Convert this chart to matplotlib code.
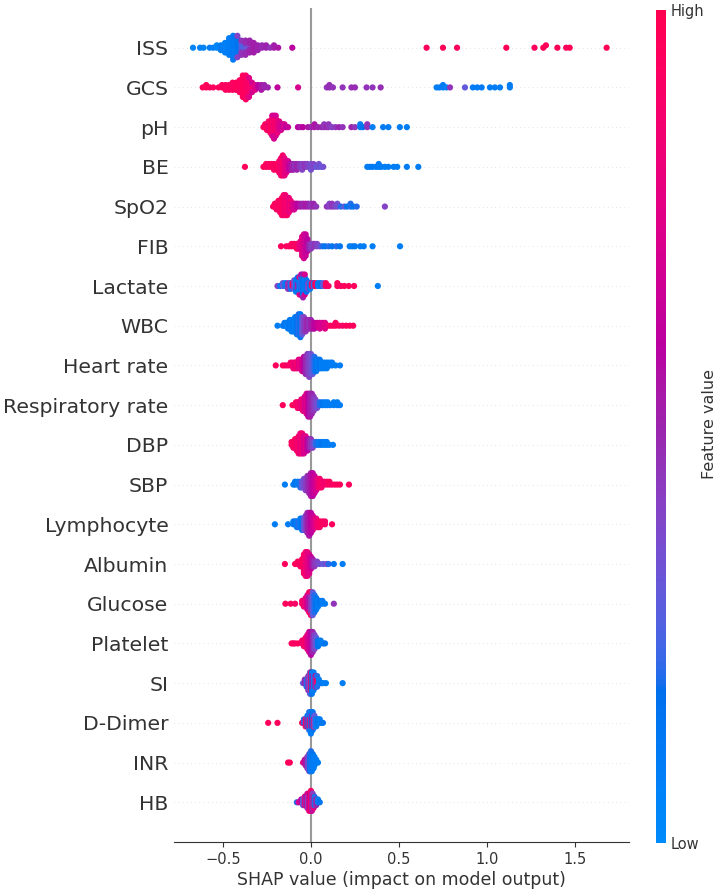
import numpy as np
import matplotlib
matplotlib.use("Agg")
import matplotlib.pyplot as plt
from matplotlib.colors import LinearSegmentedColormap
import matplotlib as mpl

# ---------------- data (shap value, count, normalised feature value) ----------------
features = ["ISS", "GCS", "pH", "BE", "SpO2", "FIB", "Lactate", "WBC", "Heart rate",
            "Respiratory rate", "DBP", "SBP", "Lymphocyte", "Albumin", "Glucose",
            "Platelet", "SI", "D-Dimer", "INR", "HB"]

ISS = [(-0.67,1,0.05),(-0.63,1,0.08),(-0.61,1,0.05),(-0.575,1,0.1),(-0.555,1,0.08),
       (-0.535,2,0.05),(-0.512,3,0.1),(-0.488,5,0.08),(-0.465,8,0.1),(-0.442,11,0.12),
       (-0.418,8,0.15),(-0.418,2,0.4),(-0.395,4,0.25),(-0.395,3,0.45),(-0.372,3,0.3),(-0.372,4,0.48),
       (-0.348,2,0.4),(-0.348,4,0.5),(-0.325,5,0.52),(-0.302,3,0.5),(-0.278,2,0.48),(-0.255,2,0.5),
       (-0.232,1,0.45),(-0.21,2,0.52),(-0.186,1,0.55),(-0.106,1,0.6),
       (0.657,1,0.95),(0.75,1,0.97),(0.83,1,0.95),(1.11,1,0.97),(1.27,1,0.95),(1.32,1,0.98),
       (1.335,1,0.96),(1.40,1,0.97),(1.45,1,0.95),(1.47,1,0.98),(1.68,1,0.97)]
GCS = [(-0.615,1,0.95),(-0.595,2,0.97),(-0.575,1,0.95),(-0.555,1,0.93),
       (-0.525,1,0.95),(-0.505,2,0.95),(-0.485,3,0.93),(-0.465,3,0.95),(-0.445,4,0.92),(-0.425,4,0.95),
       (-0.405,6,0.93),(-0.387,10,0.95),(-0.37,11,0.92),(-0.352,7,0.9),(-0.352,2,0.75),
       (-0.335,3,0.85),(-0.335,2,0.7),(-0.317,3,0.75),(-0.3,2,0.6),(-0.282,3,0.55),(-0.265,2,0.5),
       (-0.245,1,0.5),(-0.19,1,0.62),(-0.073,1,0.7),
       (0.09,1,0.45),(0.105,2,0.47),(0.125,1,0.45),(0.18,1,0.45),(0.23,1,0.47),(0.25,1,0.48),
       (0.316,1,0.45),(0.35,1,0.45),(0.396,1,0.47),
       (0.714,1,0.1),(0.73,1,0.1),(0.75,2,0.12),(0.77,1,0.08),(0.79,1,0.45),(0.875,1,0.3),
       (0.92,1,0.1),(0.945,1,0.1),(0.97,1,0.12),(1.017,1,0.1),(1.045,1,0.1),(1.074,1,0.1),(1.13,2,0.1)]
PH = [(-0.27,1,0.95),(-0.26,2,0.9),(-0.25,3,0.95),(-0.24,4,0.85),(-0.23,5,0.95),(-0.22,6,0.9),
      (-0.22,2,0.7),(-0.21,6,0.85),(-0.21,3,0.7),(-0.2,6,0.9),(-0.2,2,0.7),(-0.19,5,0.8),(-0.18,4,0.75),
      (-0.17,3,0.7),(-0.16,2,0.65),(-0.15,2,0.7),(-0.14,1,0.6),(-0.13,1,0.65),
      (-0.074,1,0.6),(-0.06,1,0.55),(-0.045,1,0.6),(-0.017,1,0.55),(0.0,1,0.5),(0.02,2,0.55),
      (0.04,1,0.5),(0.06,1,0.5),(0.075,2,0.45),(0.09,1,0.5),(0.1,2,0.45),(0.12,1,0.4),(0.14,1,0.45),
      (0.16,1,0.5),(0.18,1,0.45),(0.23,1,0.5),(0.25,1,0.45),(0.28,2,0.1),(0.295,1,0.15),(0.32,2,0.45),
      (0.35,1,0.1),(0.41,1,0.1),(0.44,1,0.1),(0.505,1,0.1),(0.545,1,0.1)]
BE = [(-0.375,1,0.95),(-0.27,1,0.95),(-0.255,2,0.95),(-0.24,2,0.9),(-0.225,2,0.95),(-0.21,3,0.9),
      (-0.195,3,0.95),(-0.18,5,0.9),(-0.17,7,0.85),(-0.16,8,0.9),(-0.15,7,0.8),(-0.14,5,0.75),
      (-0.13,4,0.7),(-0.12,3,0.6),(-0.11,3,0.55),(-0.1,3,0.5),(-0.09,2,0.45),(-0.08,3,0.5),
      (-0.065,2,0.45),(-0.05,3,0.4),(-0.035,2,0.45),(-0.02,2,0.4),(0.0,3,0.35),(0.015,2,0.4),
      (0.03,1,0.3),(0.045,2,0.35),(0.06,1,0.3),(0.07,1,0.35),
      (0.32,1,0.1),(0.335,1,0.1),(0.35,1,0.12),(0.37,1,0.1),(0.385,2,0.1),(0.4,1,0.1),(0.42,1,0.1),
      (0.44,1,0.1),(0.47,1,0.1),(0.49,1,0.1),(0.545,1,0.1),(0.61,1,0.1)]
SPO2 = [(-0.215,1,0.95),(-0.205,2,0.95),(-0.195,3,0.9),(-0.185,4,0.95),(-0.175,5,0.9),(-0.165,7,0.95),
        (-0.155,8,0.9),(-0.145,8,0.85),(-0.135,7,0.9),(-0.125,6,0.8),(-0.115,4,0.85),(-0.105,3,0.75),
        (-0.095,3,0.7),(-0.085,2,0.65),(-0.075,2,0.6),(-0.06,2,0.55),(-0.045,2,0.5),(-0.03,2,0.55),
        (-0.015,2,0.5),(0.0,2,0.45),(0.015,2,0.5),(0.03,1,0.45),
        (0.09,1,0.45),(0.105,2,0.4),(0.12,2,0.45),(0.135,1,0.4),(0.15,2,0.35),(0.17,1,0.2),
        (0.19,1,0.3),(0.205,1,0.15),(0.225,2,0.2),(0.24,1,0.15),(0.26,1,0.2),(0.42,1,0.4)]
FIB = [(-0.17,1,0.95),(-0.14,1,0.95),(-0.125,1,0.92),(-0.11,2,0.95),(-0.095,2,0.9),(-0.08,3,0.95),
       (-0.07,3,0.85),(-0.06,4,0.8),(-0.05,9,0.75),(-0.04,11,0.7),(-0.03,10,0.65),(-0.02,6,0.6),
       (-0.01,3,0.5),(0.0,3,0.45),(0.01,2,0.4),(0.02,2,0.45),(0.035,2,0.4),(0.05,1,0.35),
       (0.065,1,0.2),(0.08,1,0.15),(0.1,1,0.2),(0.12,1,0.15),(0.145,1,0.2),(0.165,1,0.15),
       (0.22,1,0.1),(0.235,1,0.1),(0.25,1,0.12),(0.28,1,0.1),(0.3,1,0.1),(0.35,1,0.1),(0.506,1,0.1)]
LACT = [(-0.19,1,0.4),(-0.175,1,0.1),(-0.16,2,0.3),(-0.145,2,0.1),(-0.13,3,0.45),(-0.115,3,0.2),
        (-0.105,2,0.9),(-0.095,4,0.35),(-0.085,5,0.1),(-0.075,3,0.5),(-0.075,3,0.15),(-0.065,5,0.1),
        (-0.065,2,0.8),(-0.055,6,0.2),(-0.055,2,0.6),(-0.045,7,0.15),(-0.045,2,0.5),(-0.035,6,0.1),
        (-0.035,2,0.7),(-0.025,5,0.15),(-0.015,3,0.4),(-0.005,3,0.1),(0.005,2,0.9),(0.015,2,0.2),
        (0.025,2,0.95),(0.04,2,0.1),(0.055,2,0.15),(0.07,2,0.3),(0.085,2,0.95),(0.1,1,0.9),
        (0.15,2,0.95),(0.17,1,0.9),(0.19,1,0.95),(0.215,1,0.95),(0.245,1,0.95),(0.38,1,0.1)]
WBC = [(-0.19,1,0.1),(-0.16,1,0.1),(-0.15,2,0.15),(-0.14,2,0.1),(-0.13,3,0.1),(-0.12,4,0.15),
       (-0.11,5,0.1),(-0.1,5,0.12),(-0.09,6,0.1),(-0.08,7,0.15),(-0.07,8,0.2),(-0.06,9,0.15),
       (-0.05,7,0.3),(-0.04,6,0.4),(-0.03,5,0.45),(-0.02,4,0.5),(-0.01,4,0.45),(0.0,4,0.5),
       (0.01,3,0.55),(0.02,3,0.6),(0.035,2,0.65),(0.05,3,0.7),(0.065,2,0.7),(0.08,3,0.75),
       (0.095,1,0.8),(0.11,1,0.9),(0.125,1,0.95),(0.14,2,0.92),(0.16,1,0.95),(0.18,1,0.9),
       (0.2,1,0.95),(0.22,1,0.95),(0.24,1,0.95)]
HR = [(-0.2,1,0.95),(-0.16,1,0.95),(-0.145,1,0.95),(-0.13,1,0.9),(-0.115,2,0.9),(-0.1,3,0.85),
      (-0.09,3,0.8),(-0.08,3,0.9),(-0.07,4,0.75),(-0.06,4,0.8),(-0.05,5,0.7),(-0.04,6,0.6),
      (-0.03,7,0.5),(-0.02,8,0.45),(-0.01,9,0.4),(0.0,8,0.35),(0.01,7,0.3),(0.02,6,0.2),
      (0.03,5,0.15),(0.04,4,0.1),(0.05,4,0.15),(0.06,3,0.1),(0.075,3,0.1),(0.09,3,0.1),
      (0.105,2,0.1),(0.12,2,0.1),(0.14,1,0.1),(0.165,1,0.1)]
RR = [(-0.16,1,0.95),(-0.105,1,0.95),(-0.095,1,0.95),(-0.085,2,0.9),(-0.075,3,0.9),(-0.065,3,0.85),
      (-0.055,4,0.8),(-0.045,5,0.85),(-0.035,6,0.7),(-0.025,8,0.75),(-0.015,9,0.6),(-0.005,9,0.55),
      (0.005,8,0.5),(0.015,6,0.45),(0.025,4,0.4),(0.035,3,0.35),(0.05,2,0.2),(0.065,2,0.15),
      (0.08,2,0.1),(0.095,2,0.1),(0.11,1,0.1),(0.13,2,0.1),(0.15,2,0.1),(0.165,1,0.1)]
DBP = [(-0.11,2,0.95),(-0.1,3,0.9),(-0.09,4,0.95),(-0.08,5,0.85),(-0.07,7,0.9),(-0.06,8,0.8),
       (-0.05,8,0.85),(-0.04,7,0.7),(-0.03,6,0.75),(-0.02,5,0.6),(-0.01,4,0.55),(0.0,4,0.45),
       (0.01,3,0.4),(0.02,2,0.3),(0.03,2,0.2),(0.045,2,0.1),(0.06,2,0.15),(0.075,2,0.1),
       (0.09,2,0.1),(0.105,1,0.1),(0.125,1,0.1)]
SBP = [(-0.148,1,0.1),(-0.1,1,0.1),(-0.09,2,0.15),(-0.075,2,0.1),(-0.06,3,0.2),(-0.05,3,0.3),
       (-0.04,4,0.35),(-0.03,5,0.4),(-0.02,6,0.45),(-0.01,7,0.5),(0.0,9,0.55),(0.01,9,0.6),
       (0.02,7,0.65),(0.03,5,0.7),(0.04,4,0.8),(0.05,4,0.85),(0.06,3,0.9),(0.075,2,0.85),
       (0.09,2,0.9),(0.105,2,0.95),(0.12,1,0.9),(0.135,1,0.95),(0.15,1,0.95),(0.165,1,0.95),
       (0.216,1,0.95)]
LYM = [(-0.205,1,0.1),(-0.13,1,0.1),(-0.1,2,0.1),(-0.09,2,0.15),(-0.08,3,0.1),(-0.07,3,0.2),
       (-0.06,4,0.1),(-0.05,5,0.15),(-0.04,5,0.3),(-0.03,6,0.4),(-0.02,8,0.5),(-0.01,9,0.55),
       (0.0,8,0.6),(0.01,6,0.65),(0.02,4,0.7),(0.03,4,0.8),(0.04,3,0.85),(0.05,3,0.9),
       (0.065,2,0.95),(0.08,2,0.9),(0.12,1,0.95)]
ALB = [(-0.148,1,0.95),(-0.09,1,0.95),(-0.075,2,0.95),(-0.06,3,0.9),(-0.05,4,0.95),(-0.04,9,0.9),
       (-0.03,11,0.85),(-0.02,11,0.8),(-0.01,9,0.75),(0.0,6,0.65),(0.01,4,0.55),(0.02,3,0.45),
       (0.035,2,0.4),(0.05,1,0.35),(0.07,1,0.3),(0.09,1,0.4),(0.1,1,0.2),(0.13,1,0.15),(0.18,1,0.1)]
GLU = [(-0.145,1,0.95),(-0.115,1,0.95),(-0.09,1,0.9),(-0.05,2,0.9),(-0.04,3,0.85),(-0.03,4,0.8),
       (-0.02,6,0.7),(-0.01,6,0.55),(-0.01,2,0.9),(0.0,7,0.45),(0.0,2,0.9),(0.01,9,0.3),(0.02,7,0.2),
       (0.03,5,0.15),(0.04,3,0.1),(0.05,2,0.15),(0.065,2,0.1),(0.08,1,0.1),(0.13,1,0.45)]
PLT = [(-0.11,1,0.95),(-0.1,1,0.95),(-0.09,1,0.9),(-0.075,1,0.95),(-0.05,2,0.9),(-0.04,3,0.85),
       (-0.03,4,0.9),(-0.02,6,0.75),(-0.01,8,0.7),(0.0,9,0.6),(0.01,8,0.5),(0.02,6,0.4),
       (0.03,4,0.3),(0.04,3,0.15),(0.055,2,0.1),(0.07,1,0.1),(0.08,1,0.15)]
SI = [(-0.045,1,0.3),(-0.035,2,0.5),(-0.025,3,0.2),(-0.015,5,0.45),(-0.005,7,0.3),(0.0,6,0.9),
      (0.005,7,0.15),(0.01,4,0.7),(0.015,6,0.1),(0.025,4,0.5),(0.035,2,0.95),(0.035,2,0.2),
      (0.045,2,0.1),(0.06,1,0.15),(0.07,1,0.1),(0.085,1,0.1),(0.18,1,0.1)]
DD = [(-0.243,1,0.95),(-0.19,1,0.95),(-0.05,1,0.95),(-0.04,2,0.2),(-0.03,3,0.9),(-0.02,4,0.15),
      (-0.015,3,0.7),(-0.01,6,0.2),(-0.005,3,0.95),(0.0,7,0.1),(0.005,4,0.6),(0.01,6,0.15),
      (0.015,3,0.9),(0.02,4,0.3),(0.03,3,0.1),(0.04,2,0.15),(0.05,2,0.1),(0.06,1,0.1),(0.068,1,0.15)]
INR = [(-0.13,1,0.95),(-0.12,1,0.95),(-0.045,1,0.75),(-0.035,2,0.65),(-0.03,3,0.55),(-0.02,5,0.5),
       (-0.015,5,0.3),(-0.01,7,0.4),(-0.005,7,0.15),(0.0,8,0.2),(0.005,7,0.1),(0.01,6,0.15),
       (0.015,5,0.1),(0.02,4,0.1),(0.03,2,0.1),(0.04,1,0.1)]
HB = [(-0.08,1,0.2),(-0.07,1,0.7),(-0.055,2,0.6),(-0.045,3,0.3),(-0.035,4,0.85),(-0.03,4,0.5),
      (-0.02,6,0.7),(-0.015,5,0.3),(-0.01,7,0.8),(-0.005,6,0.6),(0.0,8,0.9),(0.005,7,0.65),
      (0.01,6,0.4),(0.015,5,0.8),(0.02,4,0.2),(0.03,3,0.5),(0.04,2,0.1),(0.05,1,0.15)]

rows = [ISS, GCS, PH, BE, SPO2, FIB, LACT, WBC, HR, RR, DBP, SBP, LYM, ALB, GLU, PLT, SI, DD, INR, HB]
xticks = [-0.5, 0.0, 0.5, 1.0, 1.5]

# ---------------- SHAP red_blue colormap (LCH interpolation) ----------------
def lab2rgb(L, a, b):
    fy = (L + 16) / 116.0
    fx = fy + a / 500.0
    fz = fy - b / 200.0
    def finv(t):
        return t**3 if t > 6/29 else 3*(6/29)**2*(t - 4/29)
    X, Y, Z = 0.95047*finv(fx), 1.0*finv(fy), 1.08883*finv(fz)
    M = np.array([[3.2406, -1.5372, -0.4986], [-0.9689, 1.8758, 0.0415], [0.0557, -0.2040, 1.0570]])
    lin = M @ np.array([X, Y, Z])
    out = np.where(lin <= 0.0031308, 12.92*lin, 1.055*np.abs(lin)**(1/2.4) - 0.055)
    return np.clip(out, 0, 1)

nsteps = 100
blue_lch = [54., 70., 4.6588]
l_mid = 40.
red_lch = [54., 90., 0.35470565 + 2*np.pi]
l_vals = list(np.linspace(blue_lch[0], l_mid, nsteps//2)) + list(np.linspace(l_mid, red_lch[0], nsteps//2))
c_vals = np.linspace(blue_lch[1], red_lch[1], nsteps)
h_vals = np.linspace(blue_lch[2], red_lch[2], nsteps)
cols = [lab2rgb(l, c*np.cos(h), c*np.sin(h)) for l, c, h in zip(l_vals, c_vals, h_vals)]
cmap = LinearSegmentedColormap.from_list("red_blue", cols)

# ---------------- figure ----------------
fig = plt.figure(figsize=(7.2, 8.91), dpi=100)
ax = fig.add_axes([174/720, 49/891, 455/720, 834/891])

axis_color = "#333333"
n = len(features)
row_height = 0.4
for i, (name, data) in enumerate(zip(features, rows)):
    pos = n - 1 - i
    shaps = np.array([v for v, c, f in data for _ in range(c)], dtype=float)
    fv = np.array([f for v, c, f in data for _ in range(c)], dtype=float)
    ax.axhline(y=pos, color="#cccccc", lw=0.5, dashes=(1, 5), zorder=-1)
    nb = 100
    quant = np.round(nb*(shaps - shaps.min())/(shaps.max() - shaps.min() + 1e-8))
    inds = np.argsort(quant, kind="stable")
    layer, last = 0, -1
    ys = np.zeros(len(shaps))
    for ind in inds:
        if quant[ind] != last:
            layer = 0
        ys[ind] = np.ceil(layer/2)*((layer % 2)*2 - 1)
        layer += 1
        last = quant[ind]
    ys *= 0.9*(row_height/np.max(ys + 1))
    ax.scatter(shaps, pos + ys, c=fv, cmap=cmap, vmin=0, vmax=1, s=20, linewidth=0, zorder=3)

ax.axvline(x=0, color="#999999", lw=1.5, zorder=-1)
ax.set_xlim(-0.778, 1.807)
ax.set_ylim(-1, n)
ax.set_yticks(range(n))
ax.set_yticklabels(features[::-1], fontsize=14.7, color=axis_color)
ax.set_xticks(xticks)
ax.set_xticklabels([f"{t:.1f}".replace("-", "\u2212") for t in xticks])
ax.xaxis.set_ticks_position("bottom")
ax.yaxis.set_ticks_position("none")
for s in ["right", "top", "left"]:
    ax.spines[s].set_visible(False)
ax.spines["bottom"].set_color(axis_color)
ax.tick_params(color=axis_color, labelcolor=axis_color)
ax.tick_params("y", length=0, pad=4)
ax.tick_params("x", labelsize=10.5)
ax.set_xlabel("SHAP value (impact on model output)", fontsize=12.5, color=axis_color, labelpad=3)

cax = fig.add_axes([656/720, 48/891, 10/720, 833/891])
cb = mpl.colorbar.ColorbarBase(cax, cmap=cmap, norm=mpl.colors.Normalize(0, 1), ticks=[0, 1])
cb.set_ticklabels(["Low", "High"])
cb.outline.set_visible(False)
cb.ax.tick_params(labelsize=10.5, length=0, colors=axis_color)
fig.text(710/720, (891-424)/891, "Feature value", rotation=90, fontsize=11.5,
         color=axis_color, ha="center", va="center")

fig.savefig("out.png", dpi=100)
